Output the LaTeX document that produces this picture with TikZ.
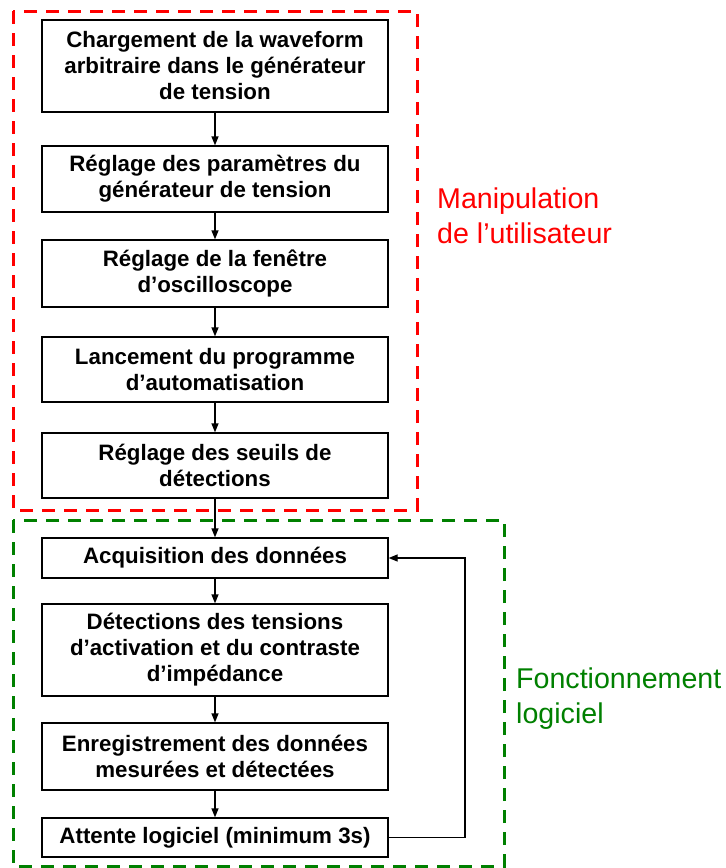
\documentclass[tikz,border=0pt]{standalone}
\usepackage{fontspec}
\setmainfont{Liberation Sans}
\usetikzlibrary{arrows.meta}
\definecolor{redL}{RGB}{255,0,0}
\definecolor{greenL}{RGB}{0,128,0}
\begin{document}
\begin{tikzpicture}[x=1pt,y=-1pt,
  stepbox/.style={draw=black,line width=1.3pt,minimum width=346pt,inner sep=0pt,
    align=center,font=\fontsize{22.3}{26}\selectfont\bfseries},
  flow/.style={-{Triangle[length=9pt,width=7pt]},line width=1.3pt},
  frame/.style={line width=3pt,dash pattern=on 13pt off 9pt},
  lab/.style={align=left,inner sep=0pt,font=\fontsize{28.6}{35}\selectfont}]
\useasboundingbox (0,0) rectangle (726,868);
% group frames
\draw[frame,redL] (13,11) rectangle (417,510);
\draw[frame,greenL] (13,520) rectangle (504,866);
% steps
\node[stepbox,minimum height=92pt] (s1) at (215,66) {Chargement de la waveform\\arbitraire dans le générateur\\de tension};
\node[stepbox,minimum height=66pt] (s2) at (215,179) {Réglage des paramètres du\\générateur de tension};
\node[stepbox,minimum height=67pt] (s3) at (215,273.5) {Réglage de la fenêtre\\d’oscilloscope};
\node[stepbox,minimum height=65pt] (s4) at (215,369.5) {Lancement du programme\\d’automatisation};
\node[stepbox,minimum height=65pt] (s5) at (215,465.5) {Réglage des seuils de\\détections};
\node[stepbox,minimum height=40pt] (s6) at (215,558) {Acquisition des données};
\node[stepbox,minimum height=92pt] (s7) at (215,650) {Détections des tensions\\d’activation et du contraste\\d’impédance};
\node[stepbox,minimum height=67pt] (s8) at (215,756.5) {Enregistrement des données\\mesurées et détectées};
\node[stepbox,minimum height=39pt] (s9) at (215,837.5) {Attente logiciel (minimum 3s)};
% connectors
\draw[flow] (s1) -- (s2);
\draw[flow] (s2) -- (s3);
\draw[flow] (s3) -- (s4);
\draw[flow] (s4) -- (s5);
\draw[flow] (s5) -- (s6);
\draw[flow] (s6) -- (s7);
\draw[flow] (s7) -- (s8);
\draw[flow] (s8) -- (s9);
\coordinate (lb) at (465,837.5);
\coordinate (lt) at (465,558);
\draw[flow] (s9.east) -- (lb) -- (lt) -- (s6.east);
% labels
\node[lab,text=redL,anchor=base west] (lm) at (437,243) {Manipulation\\de l’utilisateur};
\node[lab,text=greenL,anchor=base west] (lf) at (516,723) {Fonctionnement\\logiciel};
\end{tikzpicture}
\end{document}
